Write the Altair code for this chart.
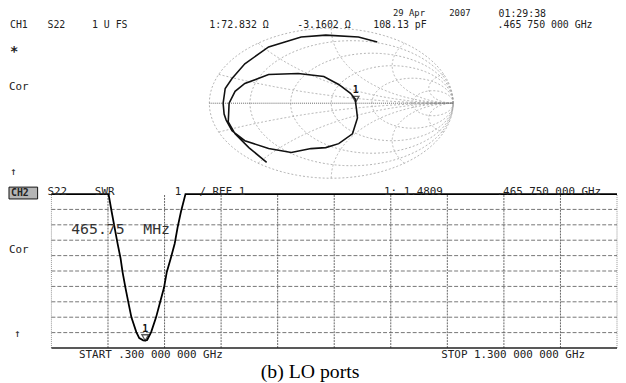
import altair as alt
import numpy as np
import pandas as pd

# ---------------- data ----------------
# CH2: S22 SWR trace (frequency in GHz, SWR; off-scale parts sit on the top line = 11)
swr_freq_ghz = [0.300, 0.401, 0.4065, 0.4117, 0.4169, 0.4222, 0.4257, 0.4309, 0.4361,
                0.4414, 0.4501, 0.4553, 0.4623, 0.46575, 0.4693, 0.4763, 0.485, 0.492,
                0.499, 0.504, 0.511, 0.518, 0.523, 0.529, 0.537, 1.300]
swr_value = [11, 11, 9.85, 8.82, 7.79, 6.83, 5.94, 4.91, 3.95,
             2.99, 2.03, 1.64, 1.50, 1.4809, 1.52, 2.03, 2.99, 3.95,
             4.91, 5.94, 6.83, 7.79, 8.82, 9.85, 11, 11]
marker_freq_ghz = [0.46575]
marker_swr = [1.4809]

# CH1: S22 Smith chart trace (reflection coefficient, real / imaginary part)
smith_re = [-0.530, -0.676, -0.789, -0.845, -0.838, -0.789, -0.709, -0.514, -0.271,
            -0.061, 0.061, 0.158, 0.198, 0.200, 0.206, 0.215, 0.174, 0.061, -0.045,
            -0.166, -0.328, -0.514, -0.709, -0.814, -0.862, -0.879, -0.887, -0.870,
            -0.814, -0.709, -0.514, -0.247, -0.045, 0.223, 0.377]
smith_im = [-0.789, -0.592, -0.408, -0.250, 0.000, 0.158, 0.263, 0.382, 0.395,
            0.355, 0.250, 0.132, 0.053, 0.000, -0.066, -0.197, -0.408, -0.539, -0.592,
            -0.605, -0.658, -0.605, -0.500, -0.368, -0.225, -0.145, 0.000, 0.197,
            0.329, 0.526, 0.750, 0.882, 0.908, 0.882, 0.816]
smith_marker_re = [0.200]
smith_marker_im = [0.000]

# Smith chart grid values and SWR grid ticks
resistance_values = [0, 0.2, 0.5, 1, 2, 5]
reactance_values = [0.2, 0.5, 1, 2, 5, -0.2, -0.5, -1, -2, -5]
freq_grid_ghz = [0.3, 0.4, 0.5, 0.6, 0.7, 0.8, 0.9, 1.0, 1.1, 1.2, 1.3]
swr_grid = [1, 2, 3, 4, 5, 6, 7, 8, 9, 10, 11]

# ---------------- layout ----------------
W, H = 618, 375
OFF = 8  # page margin; label positions below are given in page pixels
MONO = "DejaVu Sans Mono"
INK = "#222222"

SX = alt.Scale(domain=[-1, 1], range=[212 - OFF, 459 - OFF], nice=False, zero=False)
SY = alt.Scale(domain=[-1, 1], range=[178 - OFF, 26 - OFF], nice=False, zero=False)
FX = alt.Scale(domain=[0.3, 1.3], range=[52 - OFF, 625 - OFF], nice=False, zero=False)
FY = alt.Scale(domain=[1, 11], range=[350 - OFF, 194 - OFF], nice=False, zero=False)

# ---------------- Smith chart grid ----------------
rows = []
theta = np.linspace(0, 2 * np.pi, 241)
for r in resistance_values:
    c, rad = r / (1 + r), 1 / (1 + r)
    for i, t in enumerate(theta):
        rows.append({"line": f"r{r}", "i": i, "re": c + rad * np.cos(t), "im": rad * np.sin(t)})
tt = np.linspace(0, np.pi / 2 - 0.002, 200)
rr = np.tan(tt)
for xv in reactance_values:
    g = (rr + 1j * xv - 1) / (rr + 1j * xv + 1)
    for i, (a, b) in enumerate(zip(g.real, g.imag)):
        rows.append({"line": f"x{xv}", "i": i, "re": a, "im": b})
smith_grid_df = pd.DataFrame(rows)

smith_grid = alt.Chart(smith_grid_df).mark_line(
    color="#a0a0a0", strokeWidth=0.8, strokeDash=[2, 2]
).encode(
    x=alt.X("re:Q", scale=SX, axis=None),
    y=alt.Y("im:Q", scale=SY, axis=None),
    detail="line:N", order="i:Q",
)

real_axis = alt.Chart(pd.DataFrame({"a": [-1], "b": [1], "im": [0]})).mark_rule(
    color="#666666", strokeWidth=1, strokeDash=[1, 1]
).encode(
    x=alt.X("a:Q", scale=SX, axis=None), x2="b:Q",
    y=alt.Y("im:Q", scale=SY, axis=None),
)

smith_df = pd.DataFrame({"re": smith_re, "im": smith_im, "k": range(len(smith_re))})
smith_trace = alt.Chart(smith_df).mark_line(color="#111111", strokeWidth=1.6).encode(
    x=alt.X("re:Q", scale=SX, axis=None),
    y=alt.Y("im:Q", scale=SY, axis=None),
    order="k:Q",
)
smith_mk_df = pd.DataFrame({"re": smith_marker_re, "im": smith_marker_im, "t": ["1"]})
smith_marker = alt.Chart(smith_mk_df).mark_point(
    shape="triangle-down", size=45, filled=False, color="#111111", strokeWidth=1.3, yOffset=-4
).encode(x=alt.X("re:Q", scale=SX, axis=None), y=alt.Y("im:Q", scale=SY, axis=None))
smith_marker_lbl = alt.Chart(smith_mk_df).mark_text(
    font=MONO, fontSize=10, color="#111111", yOffset=-13, fontWeight="bold"
).encode(x=alt.X("re:Q", scale=SX, axis=None), y=alt.Y("im:Q", scale=SY, axis=None), text="t:N")

# ---------------- SWR grid ----------------
inner_f = pd.DataFrame({"f": freq_grid_ghz[1:-1], "lo": 1, "hi": 11})
edge_f = pd.DataFrame({"f": [freq_grid_ghz[0], freq_grid_ghz[-1]], "lo": 1, "hi": 11})
inner_s = pd.DataFrame({"s": swr_grid[1:-1], "a": 0.3, "b": 1.3})

vgrid = alt.Chart(inner_f).mark_rule(color="#555555", strokeWidth=0.9, strokeDash=[2, 1]).encode(
    x=alt.X("f:Q", scale=FX, axis=None), y=alt.Y("lo:Q", scale=FY, axis=None), y2="hi:Q")
vedge = alt.Chart(edge_f).mark_rule(color="#888888", strokeWidth=0.9, strokeDash=[1, 1]).encode(
    x=alt.X("f:Q", scale=FX, axis=None), y=alt.Y("lo:Q", scale=FY, axis=None), y2="hi:Q")
hgrid = alt.Chart(inner_s).mark_rule(color="#666666", strokeWidth=0.9, strokeDash=[4, 2]).encode(
    y=alt.Y("s:Q", scale=FY, axis=None), x=alt.X("a:Q", scale=FX, axis=None), x2="b:Q")
hbottom = alt.Chart(pd.DataFrame({"s": [swr_grid[0]], "a": [0.3], "b": [1.3]})).mark_rule(
    color="#222222", strokeWidth=1.3).encode(
    y=alt.Y("s:Q", scale=FY, axis=None), x=alt.X("a:Q", scale=FX, axis=None), x2="b:Q")

swr_df = pd.DataFrame({"f": swr_freq_ghz, "s": swr_value})
swr_trace = alt.Chart(swr_df).mark_line(color="#000000", strokeWidth=1.8).encode(
    x=alt.X("f:Q", scale=FX, axis=None), y=alt.Y("s:Q", scale=FY, axis=None))
mk_df = pd.DataFrame({"f": marker_freq_ghz, "s": marker_swr, "t": ["1"]})
swr_marker = alt.Chart(mk_df).mark_point(
    shape="triangle-down", size=45, filled=False, color="#111111", strokeWidth=1.3, yOffset=-3
).encode(x=alt.X("f:Q", scale=FX, axis=None), y=alt.Y("s:Q", scale=FY, axis=None))
swr_marker_lbl = alt.Chart(mk_df).mark_text(
    font=MONO, fontSize=10, color="#111111", yOffset=-12, fontWeight="bold"
).encode(x=alt.X("f:Q", scale=FX, axis=None), y=alt.Y("s:Q", scale=FY, axis=None), text="t:N")


# ---------------- annotation text ----------------
def label(txt, x, y, size=11, font=MONO, align="left", baseline="middle", weight="normal", color=INK):
    return alt.Chart(pd.DataFrame({"t": [txt]})).mark_text(
        align=align, baseline=baseline, font=font, fontSize=size, fontWeight=weight, color=color
    ).encode(x=alt.value(x - OFF), y=alt.value(y - OFF), text="t:N")


ch2_box = alt.Chart(pd.DataFrame({"t": ["CH2"]})).mark_rect(
    fill="#b5b5b5", stroke="#111111", strokeWidth=1
).encode(x=alt.value(9 - OFF), x2=alt.value(38 - OFF), y=alt.value(187 - OFF), y2=alt.value(199 - OFF))

labels = [
    label("29 Apr", 398, 7, size=9, baseline="top"),
    label("2007", 455, 7, size=9, baseline="top"),
    label("01:29:38", 505, 7, size=10, baseline="top"),
    label("CH1", 10, 23, size=10),
    label("S22", 48, 23, size=10),
    label("1  U  FS", 93, 23, size=10),
    label("1:72.832 Ω", 212, 23, size=10),
    label("-3.1602 Ω", 301, 23, size=10),
    label("108.13 pF", 378, 23, size=10),
    label(".465 750 000 GHz", 504, 23, size=10),
    label("*", 10, 50, size=14, weight="bold"),
    label("Cor", 9, 86),
    label("↑", 10, 172),
    label("CH2", 11, 193, size=10, weight="bold"),
    label("S22", 48, 192),
    label("SWR", 96, 192),
    label("1", 177, 192),
    label("/ REF  1", 202, 192),
    label("1: 1.4809", 389, 192),
    label(".465 750 000 GHz", 503, 192),
    label("465.75", 72, 230, size=15, color="#333333"),
    label("MHz", 145, 230, size=15, color="#333333"),
    label("Cor", 9, 251),
    label("↑", 14, 336),
    label("START .300 000 000 GHz", 80, 357),
    label("STOP 1.300 000 000 GHz", 447, 357),
    label("(b) LO ports", 314, 380, size=20, font="Liberation Serif", align="center",
          baseline="alphabetic", color="#000000"),
]

chart = alt.layer(
    smith_grid, real_axis, smith_trace, smith_marker, smith_marker_lbl,
    vgrid, vedge, hgrid, hbottom, swr_trace, swr_marker, swr_marker_lbl,
    ch2_box, *labels,
).resolve_scale(
    x="independent", y="independent"
).properties(
    width=W, height=H, padding=0, background="white",
    autosize=alt.AutoSizeParams(type="none"),
).configure_view(stroke=None)

chart.save("out.html", embed_options={"renderer": "svg", "actions": False})
